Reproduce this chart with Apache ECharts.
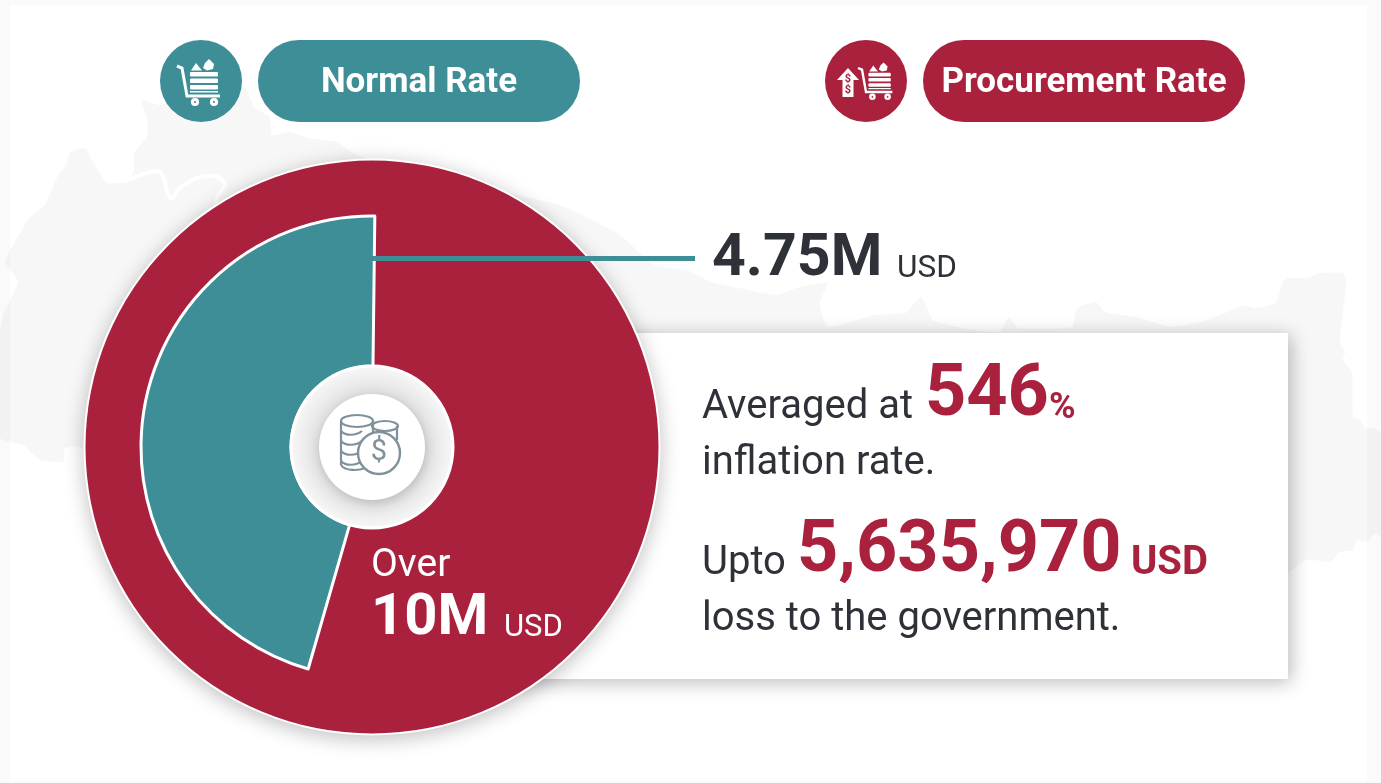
<!DOCTYPE html>
<html>
<head>
<meta charset="utf-8">
<title>Normal Rate vs Procurement Rate</title>
<style>
    html, body { margin: 0; padding: 0; background: #fff; }
    #chart { width: 1381px; height: 783px; }
</style>
<script src="https://cdn.jsdelivr.net/npm/echarts@6/dist/echarts.min.js"></script>
</head>
<body>
<div id="chart"></div>
<script>
// 数据 (million USD)
const rateNames = ['Normal Rate', 'Procurement Rate'];
const rateValues = [4.75, 5.63597];
const rateColors = ['#3d8e97', '#a9213d'];
const normalLabel = ['4.75M', 'USD'];
const totalLabel = ['Over', '10M', 'USD'];
const inflationText = ['Averaged at', '546', '%', 'inflation rate.'];
const lossText = ['Upto', '5,635,970', 'USD', 'loss to the government.'];

const TEAL = rateColors[0], RED = rateColors[1], DARK = '#2f3138', ICON = '#7f919b';
const CX = 372, CY = 447;
const FONT = 'Roboto, sans-serif';

// 背景地图轮廓 (装饰)
const mapOutline = [
    [0,333],[3,315],[18,282],[5,262],[10,250],[30,217],[45,205],[57,177],[67,163],[70,152],[85,148],
    [92,160],[107,183],[118,183],[128,182],[134,170],[134,153],[147,137],[147,117],[141,100],[160,105],
    [175,100],[245,88],[254,107],[270,117],[272,135],[290,132],[308,138],[337,142],[353,153],[400,170],
    [560,205],[620,235],[654,265],[687,270],[711,282],[739,288],[777,295],[796,288],[827,283],[820,303],
    [824,320],[829,327],[876,315],[905,313],[921,297],[933,320],[957,327],[999,332],[1009,317],[1018,328],
    [1072,327],[1077,308],[1096,302],[1105,312],[1136,317],[1172,327],[1207,320],[1245,305],[1254,308],
    [1276,303],[1282,283],[1287,278],[1307,278],[1320,273],[1343,273],[1346,283],[1343,313],[1340,343],
    [1345,352],[1343,360],[1352,372],[1353,417],[1360,420],[1365,428],[1373,428],[1381,433],[1381,537],
    [1375,533],[1367,542],[1357,540],[1353,550],[1340,552],[1330,562],[1307,560],[1285,575],[1200,640],
    [400,640],[80,447],[65,448],[63,462],[40,460],[23,445],[0,438]
];
const mapRiver = [
    [128,180],[150,172],[160,172],[165,182],[168,195],[172,198],[180,188],[200,177],[218,177],[225,185],[218,195],[215,208]
];

// 文本工具：baseline 为基线
const txt = (x, baseline, text, size, weight, color, align) => ({
    type: 'text',
    z: 8,
    silent: true,
    x: x,
    y: baseline - size * 0.325 + 3.8,
    style: {
        text: text,
        fill: color,
        font: weight + ' ' + size + 'px ' + FONT,
        verticalAlign: 'middle',
        align: align || 'left'
    }
});

// 购物车图标
const cartIcon = (ox, oy, s) => {
    const stroke = { stroke: '#fff', fill: 'none', lineWidth: 3 * s };
    const bar = (y) => ({ type: 'rect', z: 8, shape: { x: 13 * s, y: y * s, width: 28 * s, height: 4.5 * s, r: 1 }, style: { fill: '#fff' } });
    const wheel = (x) => ({ type: 'circle', z: 8, shape: { cx: x * s, cy: 36 * s, r: 2.6 * s }, style: stroke });
    return {
        type: 'group', x: ox, y: oy, silent: true,
        children: [
            { type: 'polyline', z: 8, shape: { points: [[0, 0], [5 * s, 2 * s], [10 * s, 30 * s], [43 * s, 30 * s]] }, style: stroke },
            bar(6), bar(12.5), bar(19), { type: 'rect', z: 8, shape: { x: 13 * s, y: 25 * s, width: 28 * s, height: 1.5 * s }, style: { fill: '#fff' } },
            wheel(18), wheel(37),
            { type: 'polygon', z: 8, shape: { points: [[14 * s, 4.5 * s], [19 * s, -3 * s], [25 * s, 4.5 * s]] }, style: { fill: '#fff' } },
            { type: 'polygon', z: 8, shape: { points: [[26 * s, 2 * s], [28 * s, -3 * s], [32 * s, -7 * s], [37 * s, -2 * s], [36 * s, 3 * s], [30 * s, 4.5 * s]] }, style: { fill: '#fff' } }
        ]
    };
};

// 硬币图标
const coinIcon = () => {
    const line = { stroke: ICON, fill: 'none', lineWidth: 2.2 };
    const bands = [431, 441, 451, 461].map((y) => ({
        type: 'bezierCurve', z: 8,
        shape: { x1: 341, y1: y, x2: 362, y2: y, cpx1: 345, cpy1: y + 5, cpx2: 356, cpy2: y + 5 },
        style: line
    }));
    return {
        type: 'group', silent: true,
        children: [
            { type: 'ellipse', z: 8, shape: { cx: 385, cy: 426, rx: 13, ry: 5 }, style: line },
            { type: 'line', z: 8, shape: { x1: 397, y1: 426, x2: 397, y2: 440 }, style: line },
            { type: 'ellipse', z: 8, shape: { cx: 357, cy: 421, rx: 16, ry: 6 }, style: { stroke: ICON, fill: '#fff', lineWidth: 2.2 } },
            { type: 'line', z: 8, shape: { x1: 341, y1: 421, x2: 341, y2: 465 }, style: line },
            { type: 'line', z: 8, shape: { x1: 373, y1: 421, x2: 373, y2: 433 }, style: line },
            ...bands,
            { type: 'bezierCurve', z: 8, shape: { x1: 341, y1: 465, x2: 365, y2: 468, cpx1: 345, cpy1: 471, cpx2: 358, cpy2: 471 }, style: line },
            { type: 'circle', z: 9, shape: { cx: 379, cy: 453, r: 21 }, style: { stroke: ICON, fill: '#fff', lineWidth: 2.4 } },
            { type: 'text', z: 10, x: 379, y: 453, style: { text: '$', fill: ICON, font: '400 29px ' + FONT, align: 'center', verticalAlign: 'middle' } }
        ]
    };
};

const chart = echarts.init(document.getElementById('chart'));

const option = {
    animation: false,
    backgroundColor: '#ffffff',
    tooltip: { show: false },
    graphic: {
        elements: [
            // 背景
            { type: 'polygon', z: 0, silent: true, shape: { points: mapOutline, smooth: 0.15 }, style: { fill: 'rgba(0,0,0,0.03)' } },
            { type: 'polyline', z: 0, silent: true, shape: { points: mapRiver, smooth: 0.3 }, style: { stroke: '#fff', lineWidth: 4, fill: 'none' } },
            { type: 'rect', z: 0, silent: true, shape: { x: 0, y: 0, width: 10, height: 783 }, style: { fill: 'rgba(0,0,0,0.02)' } },
            { type: 'rect', z: 0, silent: true, shape: { x: 1367, y: 0, width: 14, height: 783 }, style: { fill: 'rgba(0,0,0,0.02)' } },
            { type: 'rect', z: 0, silent: true, shape: { x: 10, y: 0, width: 1357, height: 5 }, style: { fill: 'rgba(0,0,0,0.02)' } },
            { type: 'rect', z: 0, silent: true, shape: { x: 10, y: 781, width: 1357, height: 2 }, style: { fill: 'rgba(0,0,0,0.02)' } },
            // 说明框
            {
                type: 'rect', z: 1, silent: true,
                shape: { x: 430, y: 333, width: 858, height: 346 },
                style: { fill: '#fff', shadowBlur: 18, shadowOffsetX: 3, shadowOffsetY: 3, shadowColor: 'rgba(0,0,0,0.28)' }
            },
            // 饼图白边和阴影
            {
                type: 'circle', z: 1, silent: true,
                shape: { cx: CX, cy: CY, r: 288.5 },
                style: { fill: '#fff', shadowBlur: 20, shadowOffsetY: 4, shadowColor: 'rgba(0,0,0,0.25)' }
            },
            // 图例
            { type: 'circle', z: 7, silent: true, shape: { cx: 201, cy: 81, r: 41 }, style: { fill: TEAL } },
            { type: 'rect', z: 7, silent: true, shape: { x: 258, y: 40, width: 322, height: 82, r: 41 }, style: { fill: TEAL } },
            cartIcon(177, 66, 1),
            txt(419, 91, rateNames[0], 35, 700, '#fff', 'center'),
            { type: 'circle', z: 7, silent: true, shape: { cx: 866, cy: 81, r: 41 }, style: { fill: RED } },
            { type: 'rect', z: 7, silent: true, shape: { x: 923, y: 40, width: 322, height: 82, r: 41 }, style: { fill: RED } },
            cartIcon(858, 68, 0.8),
            { type: 'polygon', z: 8, silent: true, shape: { points: [[848, 68], [859, 80], [853.5, 80], [853.5, 97], [842.5, 97], [842.5, 80], [837, 80]] }, style: { fill: '#fff' } },
            { type: 'text', z: 9, silent: true, x: 848, y: 79, style: { text: '$', fill: RED, font: '700 11px ' + FONT, align: 'center', verticalAlign: 'middle' } },
            { type: 'text', z: 9, silent: true, x: 848, y: 90, style: { text: '$', fill: RED, font: '700 11px ' + FONT, align: 'center', verticalAlign: 'middle' } },
            txt(1084, 91, rateNames[1], 35, 700, '#fff', 'center'),
            // 引线
            { type: 'rect', z: 7, silent: true, shape: { x: 372, y: 256, width: 323, height: 5 }, style: { fill: TEAL } },
            // 中心圆
            {
                type: 'circle', z: 6, silent: true, shape: { cx: CX, cy: CY, r: 81 },
                style: {
                    fill: {
                        type: 'radial', x: 0.5, y: 0.5, r: 0.5,
                        colorStops: [
                            { offset: 0.65, color: '#e2e2e2' },
                            { offset: 1, color: '#f8f8f8' }
                        ]
                    },
                    stroke: '#fff',
                    lineWidth: 3
                }
            },
            {
                type: 'circle', z: 7, silent: true, shape: { cx: CX, cy: CY, r: 53 },
                style: { fill: '#fff', shadowBlur: 12, shadowOffsetX: 1, shadowOffsetY: 3, shadowColor: 'rgba(0,0,0,0.18)' }
            },
            coinIcon(),
            // 文本
            txt(712, 276, normalLabel[0], 59, 700, DARK),
            txt(897, 276, normalLabel[1], 31.5, 400, DARK),
            txt(371, 575, totalLabel[0], 39, 400, '#fff'),
            txt(371, 635, totalLabel[1], 58, 700, '#fff'),
            txt(504, 635, totalLabel[2], 31, 400, '#fff'),
            txt(702, 417, inflationText[0], 40, 400, DARK),
            txt(925, 417, inflationText[1], 72, 700, RED),
            txt(1049, 417, inflationText[2], 36, 700, RED),
            txt(702, 473, inflationText[3], 40, 400, DARK),
            txt(702, 573, lossText[0], 40, 400, DARK),
            txt(797, 573, lossText[1], 72, 700, RED),
            txt(1131, 573, lossText[2], 40, 700, RED),
            txt(702, 629, lossText[3], 40, 400, DARK)
        ]
    },
    series: [
        // 外圈：总额
        {
            type: 'pie',
            z: 2,
            silent: true,
            center: [CX, CY],
            radius: [0, 286.5],
            label: { show: false },
            labelLine: { show: false },
            data: [{
                name: 'Total',
                value: rateValues[0] + rateValues[1],
                itemStyle: { color: RED, borderWidth: 0 }
            }]
        },
        // 内圈：正常价格占比，第二块透明，露出外圈的红色
        {
            type: 'pie',
            z: 3,
            silent: true,
            center: [CX, CY],
            radius: [81, 231],
            startAngle: 89.3,
            clockwise: false,
            label: { show: false },
            labelLine: { show: false },
            data: rateNames.map((name, i) => ({
                name: name,
                value: rateValues[i],
                itemStyle: i === 0
                    ? { color: rateColors[i], borderColor: '#fff', borderWidth: 3 }
                    : { color: 'transparent', borderWidth: 0 }
            }))
        }
    ]
};

chart.setOption(option);

window.addEventListener('resize', () => {
    chart.resize();
});
</script>
</body>
</html>
